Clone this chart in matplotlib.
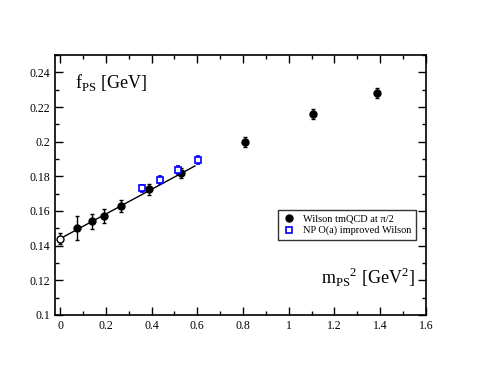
import matplotlib
matplotlib.use("Agg")
import matplotlib.pyplot as plt
from matplotlib.lines import Line2D
import numpy as np

plt.rcParams['font.family'] = ['Liberation Serif', 'DejaVu Serif']
plt.rcParams['mathtext.fontset'] = 'custom'
plt.rcParams['mathtext.rm'] = 'Liberation Serif'

# Wilson tmQCD at pi/2
tm_x = [0.075, 0.14, 0.19, 0.265, 0.39, 0.53, 0.81, 1.105, 1.385]
tm_y = [0.150, 0.154, 0.157, 0.163, 0.1725, 0.182, 0.200, 0.216, 0.228]
tm_err = [0.007, 0.0045, 0.004, 0.0035, 0.003, 0.003, 0.003, 0.003, 0.003]

# chiral extrapolation (open circle)
chi_x = [0.0]
chi_y = [0.144]
chi_err = [0.003]

# NP O(a) improved Wilson
np_x = [0.36, 0.435, 0.515, 0.605]
np_y = [0.173, 0.178, 0.1835, 0.1895]
np_err = [0.0022, 0.0022, 0.0022, 0.0023]

# linear fit
fit_x = [0.0, 0.59]
fit_y = [0.144, 0.186]

fig = plt.figure(figsize=(4.79, 3.70), dpi=100)
ax = fig.add_axes([0.115, 0.149, 0.774, 0.702])

ax.plot(fit_x, fit_y, color='black', lw=1.0)
ax.errorbar(tm_x, tm_y, yerr=tm_err, fmt='o', color='black', ms=5,
            elinewidth=1, capsize=1.5)
ax.errorbar(chi_x, chi_y, yerr=chi_err, fmt='o', color='black', mfc='white',
            ms=5, elinewidth=1, capsize=1.5)
ax.errorbar(np_x, np_y, yerr=np_err, fmt='s', color='blue', mfc='white',
            mec='blue', mew=1.2, ms=4.5, elinewidth=1, capsize=1.5)

ax.set_xlim(-0.022, 1.6)
ax.set_ylim(0.1, 0.25)
ax.set_xticks(np.arange(0, 1.61, 0.2))
ax.set_xticklabels(['0', '0.2', '0.4', '0.6', '0.8', '1', '1.2', '1.4', '1.6'])
ax.set_xticks(np.arange(0.1, 1.6, 0.2), minor=True)
ax.set_yticks(np.arange(0.1, 0.241, 0.02))
ax.set_yticklabels(['0.1', '0.12', '0.14', '0.16', '0.18', '0.2', '0.22', '0.24'])
ax.set_yticks(np.arange(0.11, 0.25, 0.02), minor=True)
ax.tick_params(which='both', direction='in', top=True, right=True,
               labelsize=8.5, width=1)
ax.tick_params(which='major', length=6)
ax.tick_params(which='minor', length=3)
for s in ax.spines.values():
    s.set_linewidth(1.2)

ax.text(0.065, 0.231, r'f$_{\rm PS}$ [GeV]', fontsize=13)
ax.text(1.14, 0.118, r'm$_{\rm PS}$$^2$ [GeV$^2$]', fontsize=13)

handles = [
    Line2D([], [], ls='none', marker='o', color='black', ms=5),
    Line2D([], [], ls='none', marker='s', mfc='white', mec='blue', mew=1.2, ms=4.5),
]
labels = ['Wilson tmQCD at π/2', 'NP O(a) improved Wilson']
leg = ax.legend(handles, labels, loc='center left', bbox_to_anchor=(0.588, 0.346),
                fontsize=7.5, frameon=True, fancybox=False, edgecolor='black',
                handletextpad=0.8, borderpad=0.4, labelspacing=0.2,
                handlelength=1.2)
leg.get_frame().set_linewidth(1.0)

fig.savefig('out.png', dpi=100)
